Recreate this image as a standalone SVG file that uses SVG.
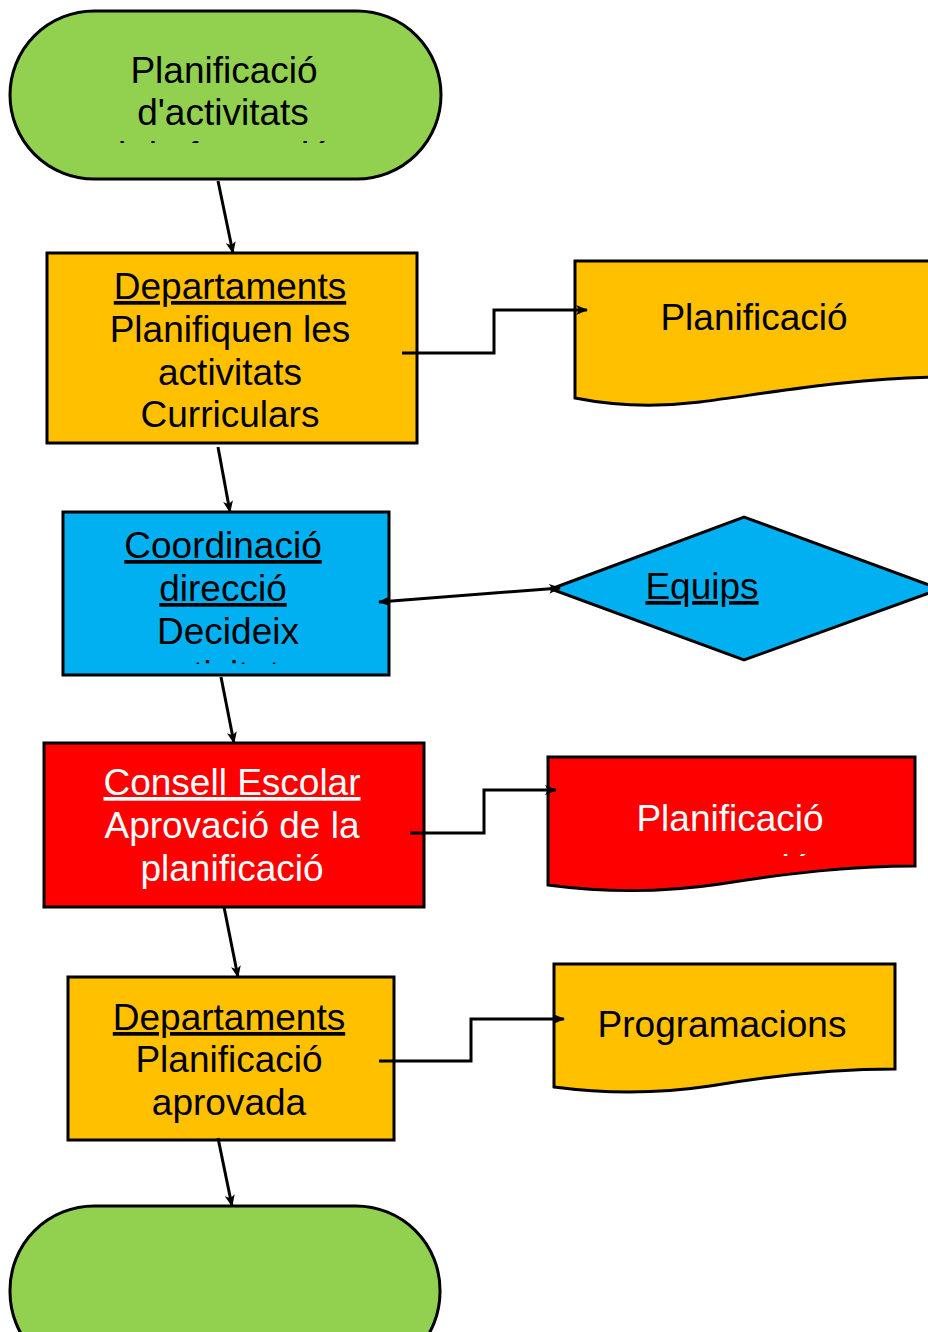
<svg xmlns="http://www.w3.org/2000/svg" width="928" height="1332" viewBox="0 0 928 1332">
<style>
.s{stroke:#000;stroke-width:3;stroke-linejoin:miter}
.t{font-family:"Liberation Sans",Arial,sans-serif;font-size:37px;text-anchor:middle;fill:#000}
.w{fill:#fff}
.u{text-decoration:underline}
.c{fill:none;stroke:#000;stroke-width:3}
</style>
<defs>
<marker id="a" viewBox="0 0 12 10" refX="11" refY="5" markerWidth="12" markerHeight="10" markerUnits="userSpaceOnUse" orient="auto-start-reverse">
<path d="M0,0 L12,5 L0,10 L3,5 Z" fill="#000"/>
</marker>
<clipPath id="k1"><rect x="10" y="40" width="430" height="103"/></clipPath>
<clipPath id="k2"><rect x="63" y="520" width="326" height="144"/></clipPath>
<clipPath id="k3"><rect x="548" y="780" width="367" height="76"/></clipPath>
</defs>
<rect width="928" height="1332" fill="#fff"/>
<g id="start">
<rect class="s" x="10" y="11" width="431" height="168" rx="84" fill="#92D050"/>
<g clip-path="url(#k1)">
<text class="t" x="224" y="83">Planificació</text>
<text class="t" x="223" y="125">d'activitats</text>
<text class="t" x="224" y="168">i de formació</text>
</g>
</g>
<g id="dept1">
<rect class="s" x="47" y="253" width="370" height="190" fill="#FFC000"/>
<text class="t u" x="230" y="299">Departaments</text>
<text class="t" x="230" y="342">Planifiquen les</text>
<text class="t" x="230" y="385">activitats</text>
<text class="t" x="230" y="427">Curriculars</text>
</g>
<g id="doc1">
<path class="s" d="M575,261 L940,261 L940,377 C850,378 770,393 700,402 C650,408 610,405 575,398 Z" fill="#FFC000"/>
<text class="t" x="754" y="330">Planificació</text>
</g>
<g id="coord">
<rect class="s" x="63" y="512" width="326" height="163" fill="#00B0F0"/>
<g clip-path="url(#k2)">
<text class="t u" x="223" y="558">Coordinació</text>
<text class="t u" x="223" y="601">direcció</text>
<text class="t" x="228" y="644">Decideix</text>
<text class="t" x="226" y="687">activitats</text>
</g>
</g>
<g id="equips">
<polygon class="s" points="551,589 744,517 940,589 744,660" fill="#00B0F0"/>
<text class="t u" x="702" y="599">Equips</text>
</g>
<g id="consell">
<rect class="s" x="44" y="743" width="380" height="164" fill="#FF0000"/>
<text class="t w u" x="232" y="795">Consell Escolar</text>
<text class="t w" x="232" y="838">Aprovació de la</text>
<text class="t w" x="232" y="881">planificació</text>
</g>
<g id="doc2">
<path class="s" d="M548,757 L915,757 L915,866 C850,866 790,873 720,884 C660,893 600,892 548,885 Z" fill="#FF0000"/>
<g clip-path="url(#k3)">
<text class="t w" x="730" y="831">Planificació</text>
<text class="t w" x="730" y="881">aprovació</text>
</g>
</g>
<g id="dept2">
<rect class="s" x="68" y="977" width="326" height="163" fill="#FFC000"/>
<text class="t u" x="229" y="1030">Departaments</text>
<text class="t" x="229" y="1072">Planificació</text>
<text class="t" x="229" y="1115">aprovada</text>
</g>
<g id="doc3">
<path class="s" d="M554,964 L895,964 L895,1069 C830,1069 770,1076 710,1086 C650,1095 600,1093 554,1087 Z" fill="#FFC000"/>
<text class="t" x="722" y="1037">Programacions</text>
</g>
<g id="end">
<rect class="s" x="10" y="1206" width="430" height="170" rx="84" fill="#92D050"/>
</g>
<g id="connectors">
<path class="c" d="M218,181 L233,253" marker-end="url(#a)"/>
<path class="c" d="M402,353 L494,353 L494,310 L587,310" marker-end="url(#a)"/>
<path class="c" d="M218,447 L230,512" marker-end="url(#a)"/>
<path class="c" d="M379,602 L560,588" marker-start="url(#a)" marker-end="url(#a)"/>
<path class="c" d="M221,677 L234,743" marker-end="url(#a)"/>
<path class="c" d="M410,833 L484,833 L484,790 L556,790" marker-end="url(#a)"/>
<path class="c" d="M224,907 L238,977" marker-end="url(#a)"/>
<path class="c" d="M379,1061 L471,1061 L471,1019 L564,1019" marker-end="url(#a)"/>
<path class="c" d="M218,1138 L232,1206" marker-end="url(#a)"/>
</g>
</svg>
